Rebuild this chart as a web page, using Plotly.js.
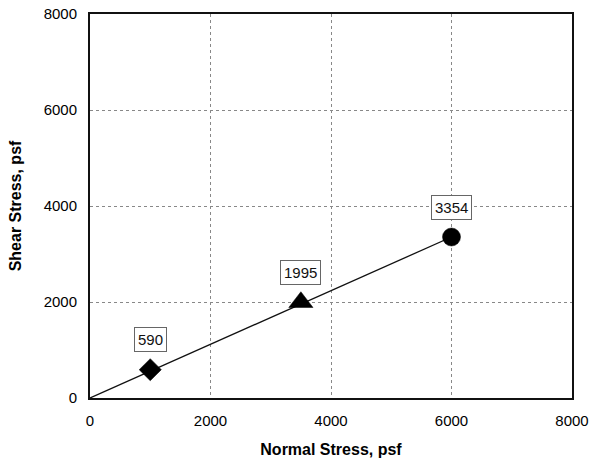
<!DOCTYPE html>
<html><head><meta charset="utf-8">
<script src="https://cdn.plot.ly/plotly-3.0.1.min.js"></script>
<style>html,body{margin:0;padding:0;background:#fff;}#chart{width:592px;height:465px;}</style>
</head><body><div id="chart"></div>
<script>
const normalStress = [1000, 3500, 6000];
const shearStress = [590, 1995, 3354];
const pointLabels = ["590", "1995", "3354"];
const markerSymbols = ["diamond", "triangle-up", "circle"];
const lineX = [0, 6000];
const lineY = [0, 3354];

const FONT = 'Liberation Sans, Arial, sans-serif';
const traces = [
  {x: lineX, y: lineY, mode: 'lines', line: {color: '#111', width: 1.3}, hoverinfo: 'skip', showlegend: false},
  {x: normalStress, y: shearStress, mode: 'markers',
   marker: {symbol: markerSymbols, size: [17, 21, 18], color: '#000', opacity: 1, line: {color: '#000', width: 0.5}}, showlegend: false}
];
const annotations = normalStress.map((x, i) => ({
  x: x, y: shearStress[i], xref: 'x', yref: 'y', text: pointLabels[i],
  showarrow: true, arrowcolor: 'rgba(0,0,0,0)', ax: 0, ay: -30,
  font: {family: FONT, size: 15, color: '#111'},
  bordercolor: '#666', borderwidth: 1, borderpad: 3, bgcolor: '#fff'
}));
const tickFont = {family: FONT, size: 15, color: '#000'};
const titleFont = {family: FONT, size: 16, color: '#000'};
const layout = {
  width: 592, height: 465,
  margin: {l: 90, r: 20, t: 14, b: 67},
  paper_bgcolor: '#fff', plot_bgcolor: '#fff',
  xaxis: {range: [0, 8000], tickvals: [0, 2000, 4000, 6000, 8000], showgrid: true,
    gridcolor: '#888', griddash: 'dot', gridwidth: 1, zeroline: false,
    showline: true, linecolor: '#111', linewidth: 2, mirror: true,
    tickfont: tickFont, ticks: '', ticklabelstandoff: 8,
    title: {text: '<b>Normal Stress, psf</b>', font: titleFont, standoff: 16}},
  yaxis: {range: [0, 8000], tickvals: [0, 2000, 4000, 6000, 8000], showgrid: true,
    gridcolor: '#888', griddash: 'dot', gridwidth: 1, zeroline: false,
    showline: true, linecolor: '#111', linewidth: 2, mirror: true,
    tickfont: tickFont, ticks: '', ticklabelstandoff: 8,
    title: {text: '<b>Shear Stress, psf</b>', font: titleFont, standoff: 18}},
  annotations: annotations
};
Plotly.newPlot('chart', traces, layout, {staticPlot: true});
</script></body></html>
